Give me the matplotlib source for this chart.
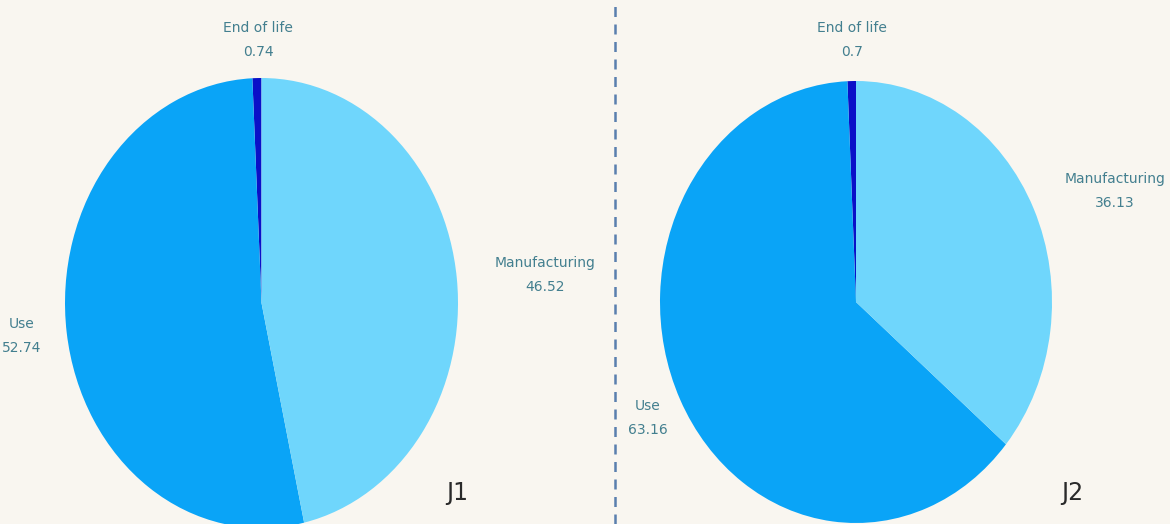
import matplotlib.pyplot as plt
from matplotlib.lines import Line2D

W, H = 1170, 524

labels = ['End of life', 'Use', 'Manufacturing']
j1_values = [0.74, 52.74, 46.52]
j2_values = [0.7, 63.16, 36.13]
colors = ['#0a10c8', '#0aa4f7', '#6fd6fc']

bg = '#f9f6f0'
txt_col = '#437f8f'

fig = plt.figure(figsize=(W / 100, H / 100), dpi=100, facecolor=bg)


def px_axes(x0, y0, w, h):
    # pixel box (top-left origin) -> figure axes
    return fig.add_axes([x0 / W, 1 - (y0 + h) / H, w / W, h / H])


def pie(ax, vals):
    ax.pie(vals, colors=colors, startangle=90, counterclock=True,
           wedgeprops=dict(linewidth=0))
    ax.set_aspect('auto')
    ax.set_xlim(-1, 1)
    ax.set_ylim(-1, 1)
    ax.axis('off')


ax1 = px_axes(65, 78, 393, 450)
pie(ax1, j1_values)
ax2 = px_axes(660, 81, 392, 442)
pie(ax2, j2_values)


def label(x, y, name, val):
    fig.text(x / W, 1 - y / H, name + '\n' + str(val), ha='center', va='center',
             fontsize=10, color=txt_col, linespacing=1.9)


label(258, 40, labels[0], j1_values[0])
label(22, 336, labels[1], j1_values[1])
label(545, 275, labels[2], j1_values[2])
label(852, 40, labels[0], j2_values[0])
label(648, 418, labels[1], j2_values[1])
label(1115, 191, labels[2], j2_values[2])

fig.text(457 / W, 1 - 493 / H, 'J1', ha='center', va='center', fontsize=17, color='#2a2a2a')
fig.text(1072 / W, 1 - 493 / H, 'J2', ha='center', va='center', fontsize=17, color='#2a2a2a')

fig.add_artist(Line2D([615 / W, 615 / W], [0, 1], transform=fig.transFigure,
                      color='#5a7fae', lw=1.8, ls=(0, (4, 3))))

fig.savefig('out.png', dpi=100, facecolor=bg)
